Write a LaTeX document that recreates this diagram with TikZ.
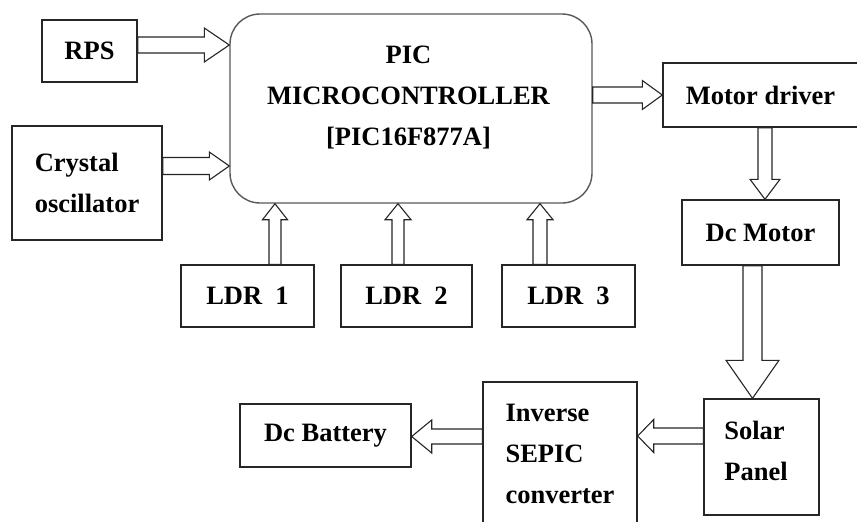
\documentclass[tikz,border=0pt]{standalone}
\usepackage{fontspec}
\setmainfont{Liberation Serif}
\usetikzlibrary{calc}
\newcommand\barrow[5]{%
  \coordinate (bh) at ($(#2)!#5pt!(#1)$);
  \draw[blockarr] ($(#1)!#3pt!90:(#2)$) -- ($(bh)!#3pt!90:(#2)$) -- ($(bh)!#4pt!90:(#2)$) -- (#2)
    -- ($(bh)!#4pt!-90:(#2)$) -- ($(bh)!#3pt!-90:(#2)$) -- ($(#1)!#3pt!-90:(#2)$) -- cycle;}
\begin{document}
\begin{tikzpicture}[x=1pt,y=-1pt,
  box/.style={draw=black!85, line width=1.4pt, fill=white, inner sep=0pt, font=\bfseries\fontsize{26.5}{41}\selectfont},
  txt/.style={inner sep=0pt, font=\bfseries\fontsize{26.5}{41}\selectfont},
  blockarr/.style={draw=black!85, line width=1.1pt, fill=white, line join=miter}]
\useasboundingbox[fill=white] (0,0) rectangle (857,522);
% boxes
\node[box, minimum width=95pt, minimum height=62pt] (rps) at (89.5,51) {RPS};
\node[box, minimum width=150pt, minimum height=114pt, align=left] (xtal) at (87,183) {Crystal\\oscillator};
\node[box, draw=black!65, rounded corners=30pt, minimum width=362pt, minimum height=189pt] (pic) at (411,108.5) {};
\node[txt, align=center] (pictext) at (408.5,97) {PIC\\MICROCONTROLLER\\{[PIC16F877A]}};
\node[box, minimum width=195pt, minimum height=64pt] (mdrv) at (760.5,95) {Motor driver};
\node[box, minimum width=157pt, minimum height=65pt] (dcm) at (760.5,232.5) {Dc Motor};
\node[box, minimum width=133pt, minimum height=62pt] (ldr1) at (247.5,296) {LDR\ \ 1};
\node[box, minimum width=131pt, minimum height=62pt] (ldr2) at (406.5,296) {LDR\ \ 2};
\node[box, minimum width=133pt, minimum height=62pt] (ldr3) at (568.5,296) {LDR\ \ 3};
\node[box, minimum width=115pt, minimum height=116pt] (solar) at (761.5,457) {};
\node[txt, align=left] (solartext) at (756,451) {Solar\\Panel};
\node[box, minimum width=154pt, minimum height=143pt, align=left] (inv) at (560,453.5) {Inverse\\SEPIC\\converter};
\node[box, minimum width=171pt, minimum height=63pt] (batt) at (325.5,435.5) {Dc Battery};
% arrows
\coordinate (a1) at ($(rps.east)+(0,-6)$); \coordinate (b1) at (a1 -| pic.west);
\barrow{a1}{b1}{8}{17}{25}
\coordinate (a2) at ($(xtal.east)+(0,-17)$); \coordinate (b2) at (a2 -| pic.west);
\barrow{a2}{b2}{8.5}{14}{20}
\coordinate (a3) at (pic.east |- mdrv.west); \coordinate (b3) at (mdrv.west);
\barrow{a3}{b3}{8}{14.5}{20}
\coordinate (a4) at ($(mdrv.south)+(4.5,0)$); \coordinate (b4) at (a4 |- dcm.north);
\barrow{a4}{b4}{7}{15}{20}
\coordinate (a5) at ($(dcm.south)+(-8,0)$); \coordinate (b5) at (a5 |- solar.north);
\barrow{a5}{b5}{9.5}{26.5}{38}
\coordinate (a6) at ($(solar.west)+(0,-21)$); \coordinate (b6) at (a6 -| inv.east);
\barrow{a6}{b6}{8}{16.5}{16}
\coordinate (a7) at ($(inv.west)+(0,-17)$); \coordinate (b7) at (a7 -| batt.east);
\barrow{a7}{b7}{7.5}{16.5}{20}
\coordinate (a8) at ($(ldr1.north)+(27.5,0)$); \coordinate (b8) at (a8 |- pic.south);
\barrow{a8}{b8}{6}{12.5}{16}
\coordinate (a9) at ($(ldr2.north)+(-8.5,0)$); \coordinate (b9) at (a9 |- pic.south);
\barrow{a9}{b9}{6}{13}{16}
\coordinate (a10) at ($(ldr3.north)+(-28.5,0)$); \coordinate (b10) at (a10 |- pic.south);
\barrow{a10}{b10}{7}{13}{16}
\end{tikzpicture}
\end{document}
